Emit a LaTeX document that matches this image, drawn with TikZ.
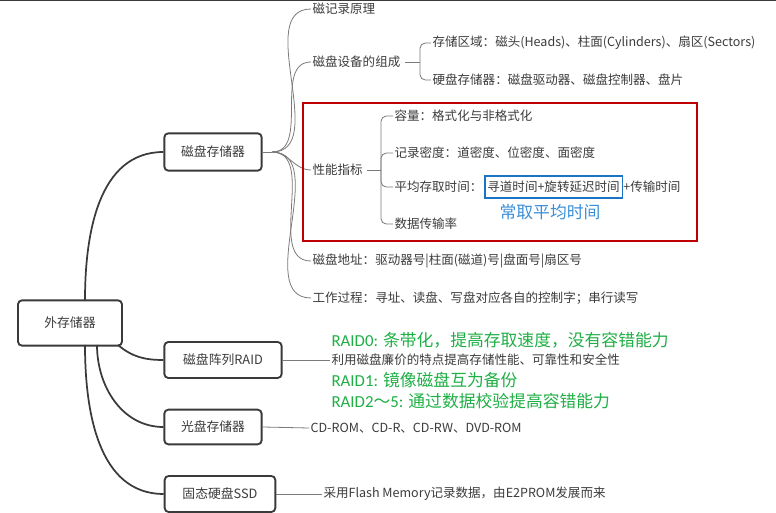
\documentclass[tikz,border=0pt]{standalone}
\usepackage{fontspec}
\setmainfont{Noto Sans CJK SC}
\newfontfamily\latfont{Carlito}
\usepackage{xcolor}
\usetikzlibrary{positioning}
\definecolor{boxgray}{HTML}{3A3A3A}
\definecolor{txtgray}{HTML}{3C3C3C}
\definecolor{linegray}{HTML}{7A7A7A}
\definecolor{raidgreen}{HTML}{1FAF45}
\definecolor{markred}{HTML}{C00000}
\definecolor{markblue}{HTML}{1A74C6}
\definecolor{noteblue}{HTML}{3A8FD9}
\tikzset{
    topic/.style={rectangle, draw=boxgray, line width=1.4pt, rounded corners=3pt, fill=white, text=txtgray, font=\fontsize{9.6}{11}\selectfont, inner sep=0pt},
    leaf/.style={anchor=west, inner sep=1pt, text=txtgray, font=\fontsize{9.4}{11}\selectfont},
    green/.style={anchor=west, inner sep=1pt, text=raidgreen, font=\fontsize{12.6}{14}\selectfont},
    mainline/.style={draw=boxgray, line width=1.3pt},
    subline/.style={draw=linegray, line width=0.6pt}
}

\begin{document}
\begin{tikzpicture}[x=0.75pt, y=-0.75pt]
    \useasboundingbox (0,0) rectangle (776,513);
    \fill[white] (0,0) rectangle (776,513);
    \draw[line width=1.2pt, color=boxgray] (0,0.6) -- (776,0.6);

    % main topics
    \node (wcq) [topic, minimum width=78pt, minimum height=34pt] at (70,323) {外存储器};
    \node (dcq) [topic, minimum width=73pt, minimum height=28pt] at (213,152) {磁盘存储器};
    \node (raid) [topic, minimum width=88pt, minimum height=27pt] at (223,360) {磁盘阵列RAID};
    \node (gp) [topic, minimum width=73pt, minimum height=26pt] at (213,427) {光盘存储器};
    \node (ssd) [topic, minimum width=83pt, minimum height=27pt] at (220,494) {固态硬盘SSD};

    \coordinate (wcq_top) at (85,300);
    \coordinate (wcq_raid) at (118,345);
    \coordinate (wcq_gp) at (97,345);
    \coordinate (wcq_ssd) at (85,345);
    \draw[mainline] (wcq_top) to[out=90, in=180] (dcq.west);
    \draw[mainline] (wcq_raid) to[out=-40, in=180] (raid.west);
    \draw[mainline] (wcq_gp) to[out=-90, in=180] (gp.west);
    \draw[mainline] (wcq_ssd) to[out=-90, in=180] (ssd.west);

    % disk storage
    \node (jlyl) [leaf] at (311,9) {磁记录原理};
    \node (zc) [leaf] at (311,62) {磁盘设备的组成};
    \node (xn) [leaf] at (311,170) {性能指标};
    \node (dz) [leaf] at (311,261) {磁盘地址：驱动器号|柱面(磁道)号|盘面号|扇区号};
    \node (gc) [leaf] at (311,298) {工作过程：寻址、读盘、写盘对应各自的控制字；串行读写};

    \coordinate (dcq_fork) at (272,152);
    \draw[subline] (dcq.east) -- (dcq_fork);
    \foreach \n in {jlyl, zc, xn, dz, gc}
        \draw[subline] (dcq_fork) to[out=0, in=180] (\n.west);

    % device parts
    \node (qy) [leaf] at (431,43) {存储区域：磁头(Heads)、柱面(Cylinders)、扇区(Sectors)};
    \node (yp) [leaf] at (431,80) {硬盘存储器：磁盘驱动器、磁盘控制器、盘片};
    \coordinate (zc_br) at (420,62);
    \draw[subline] (zc.east) ++(3,0) -- (zc_br);
    \draw[subline, rounded corners=4pt] (qy.west) -| (zc_br) |- (yp.west);

    % performance
    \node (rl) [leaf] at (393,116) {容量：格式化与非格式化};
    \node (md) [leaf] at (393,153) {记录密度：道密度、位密度、面密度};
    \node (cq) [leaf] at (393,187) {平均存取时间：};
    \node (xd) [leaf, anchor=west, draw=markblue, line width=1.2pt, inner xsep=2pt, inner ysep=4pt, right=0pt of cq] {寻道时间+旋转延迟时间};
    \node (cs) [leaf, anchor=west, inner xsep=0pt, right=0pt of xd] {+传输时间};
    \node (sl) [leaf] at (393,224) {数据传输率};
    \node (cqpj) [text=noteblue, font=\fontsize{12.6}{14}\selectfont, inner sep=0pt] at (550,212) {常取平均时间};
    \coordinate (xn_br) at (381,170);
    \draw[subline] (xn.east) ++(3,0) -- (xn_br);
    \draw[subline, rounded corners=4pt] (rl.west) -| (xn_br) |- (sl.west);
    \draw[subline, rounded corners=4pt] (md.west) -| (xn_br);
    \draw[subline, rounded corners=4pt] (cq.west) -| (xn_br);

    \draw[markred, line width=1.5pt] (303,103) rectangle (697,241);

    % RAID
    \node (raid_txt) [leaf] at (330,360) {利用磁盘廉价的特点提高存储性能、可靠性和安全性};
    \draw[subline] (raid.east) -- (raid_txt.west);
    \node (raid0) [green] at (330,340) {{\latfont RAID0: }条带化，提高存取速度，没有容错能力};
    \node (raid1) [green] at (330,380) {{\latfont RAID1: }镜像磁盘互为备份};
    \node (raid2) [green] at (330,401) {{\latfont RAID2}～{\latfont 5: }通过数据校验提高容错能力};

    % optical
    \node (cd) [leaf] at (309,428) {CD-ROM、CD-R、CD-RW、DVD-ROM};
    \draw[subline] (gp.east) -- (cd.west);

    % SSD
    \node (flash) [leaf] at (322,494) {采用Flash Memory记录数据，由E2PROM发展而来};
    \draw[subline] (ssd.east) -- (flash.west);
\end{tikzpicture}
\end{document}
